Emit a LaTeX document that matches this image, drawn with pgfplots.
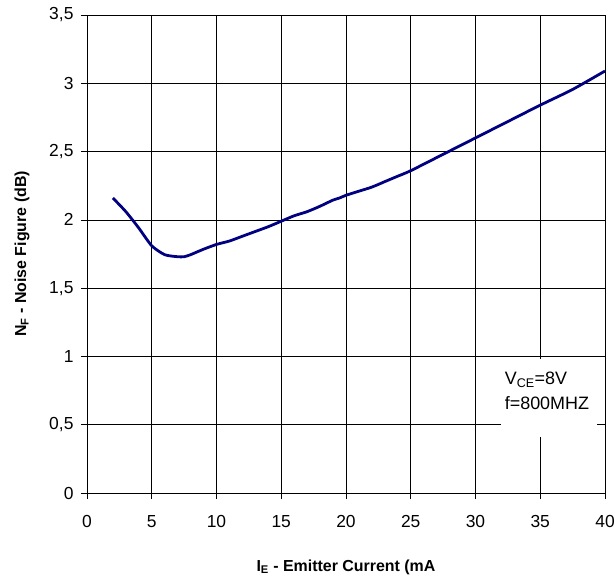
\documentclass[border=0pt]{standalone}
\usepackage{pgfplots}
\pgfplotsset{compat=1.18}
\usepackage{fontspec}
\setmainfont{Liberation Sans}
\definecolor{navyline}{RGB}{0,0,128}
\begin{document}
\begin{tikzpicture}
\begin{axis}[
    scale only axis,
    width=518bp, height=478bp,
    xmin=0, xmax=40,
    ymin=0, ymax=3.5,
    xtick={0,5,...,40},
    ytick={0,0.5,...,3.5},
    grid=major,
    grid style={black, line width=0.6pt},
    axis line style={black, line width=0.8pt},
    tick align=outside,
    tick pos=left,
    major tick length=6bp,
    tick style={black, line width=0.6pt},
    /pgf/number format/use comma,
    /pgf/number format/assume math mode=true,
    tick label style={font=\fontsize{17.5}{19}\selectfont},
    xticklabel style={yshift=-13bp},
    yticklabel style={xshift=-4bp},
    xlabel={\textbf{I\textsubscript{E} - Emitter Current (mA}},
    ylabel={\textbf{N\textsubscript{F} - Noise Figure (dB)}},
    label style={font=\fontsize{16}{18}\selectfont},
    xlabel style={at={(axis description cs:0.5,0)}, anchor=center, yshift=-74bp},
    ylabel style={at={(axis description cs:0,0.5)}, anchor=center, yshift=65bp},
]
\addplot[navyline, line width=2.8pt, smooth, tension=0.4] coordinates {
    (2,2.16) (3,2.06) (4,1.94) (5,1.81) (6,1.745) (7,1.73) (7.5,1.73)
    (8,1.745) (9,1.785) (10,1.82) (11,1.845) (12,1.88) (13,1.915)
    (14,1.95) (15,1.99) (16,2.03) (17,2.06) (18,2.10) (19,2.145)
    (19.5,2.16) (20,2.18) (21,2.21) (22,2.24) (23,2.28) (24,2.32)
    (25,2.36) (27.5,2.48) (30,2.60) (32.5,2.72) (35,2.84) (37.5,2.955)
    (40,3.09)
};
\node[fill=white, inner sep=0pt, minimum width=96bp, minimum height=78bp]
    at (axis cs:35.65,0.695) {};
\node[anchor=north west, align=left, inner sep=0pt,
      font=\fontsize{18}{25.5}\selectfont]
    at (axis cs:32.25,0.888) {V\textsubscript{CE}=8V\\f=800MHZ};
\end{axis}
\pgfresetboundingbox
\path (current axis.south west) ++(-87bp,-84bp) coordinate (bbA);
\path (current axis.north east) ++(10bp,15bp) coordinate (bbB);
\useasboundingbox (bbA) rectangle (bbB);
\end{tikzpicture}
\end{document}
